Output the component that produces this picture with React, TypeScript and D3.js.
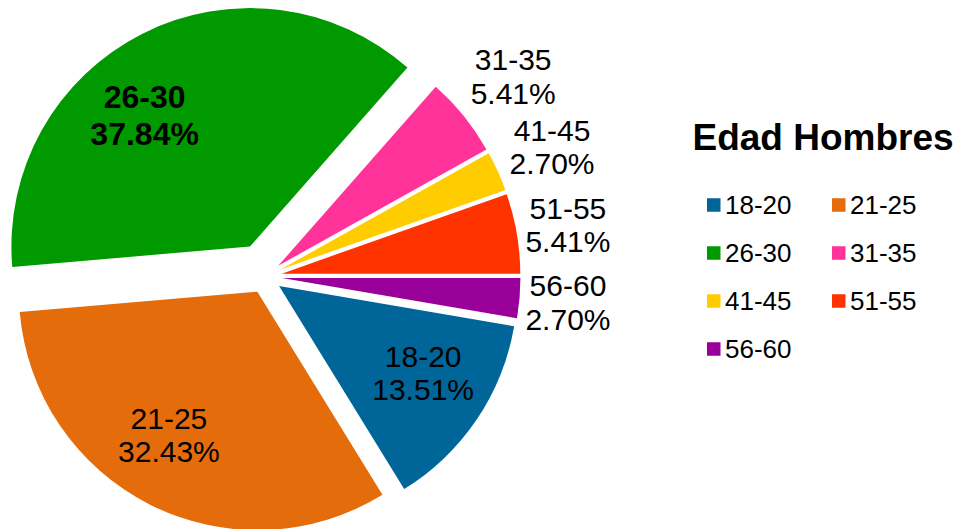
import React from "react";
import * as d3 from "d3";

// ---- data ----
const categories = ["18-20", "21-25", "26-30", "31-35", "41-45", "51-55", "56-60"];
const percents = [13.51, 32.43, 37.84, 5.41, 2.70, 5.41, 2.70];
const colors = ["#006699", "#E46C0A", "#009900", "#FF3399", "#FFCC00", "#FF3300", "#990099"];
const legendTitle = "Edad Hombres";

// ---- layout ----
const W = 959;
const H = 529;
const CX = 265;
const CY = 276.5;
const R = 238.5;
const START_DEG = 99.73;
const EXPLODE_DEFAULT = 17;
const EXPLODE_BIG = { "26-30": 33.5 } as Record<string, number>;
const INSIDE_NUDGE_DEG = { "18-20": -3, "21-25": 5, "26-30": -12 } as Record<string, number>;
const BOLD_LABELS = new Set(["26-30"]);
const FONT = "'Liberation Sans', Arial, Helvetica, sans-serif";

export default function App() {
  const toRad = (d: number) => (d * Math.PI) / 180;
  const start = toRad(START_DEG);
  const pie = d3
    .pie<number>()
    .sort(null)
    .value((d) => d)
    .startAngle(start)
    .endAngle(start + 2 * Math.PI);
  const arcs = pie(percents);
  const arcGen = d3.arc<d3.PieArcDatum<number>>().innerRadius(0).outerRadius(R);

  const slices = arcs.map((a, i) => {
    const cat = categories[i];
    const mid = (a.startAngle + a.endAngle) / 2;
    const ex = EXPLODE_BIG[cat] ?? EXPLODE_DEFAULT;
    const ox = CX + ex * Math.sin(mid);
    const oy = CY - ex * Math.cos(mid);
    const inside = cat in INSIDE_NUDGE_DEG;
    let lx: number, ly: number;
    if (inside) {
      const ang = mid + toRad(INSIDE_NUDGE_DEG[cat]);
      const dist = 0.705 * R;
      lx = ox + dist * Math.sin(ang);
      ly = oy - dist * Math.cos(ang);
    } else {
      const s = Math.sin(mid);
      const c = Math.cos(mid);
      const dist = R + 4 + Math.abs(s) * 41 + Math.abs(c) * 44;
      lx = ox + dist * s;
      ly = oy - dist * c;
    }
    const bold = BOLD_LABELS.has(cat);
    const fs = bold ? 32 : 30;
    const lineH = bold ? 37 : 33.5;
    const cap = fs * 0.716;
    const b1 = ly - (lineH - cap) / 2;
    return { a, i, cat, ox, oy, lx, b1, lineH, fs, bold };
  });

  const legendX0 = 707;
  const legendColW = 125;
  const legendY0 = 205;
  const legendRowH = 48;
  const sq = 13.5;

  return (
    <svg
      width={W}
      height={H}
      style={{ position: "absolute", left: 0, top: 0, background: "#fff" }}
      fontFamily={FONT}
    >
      <rect x={0} y={0} width={W} height={H} fill="#fff" />
      {slices.map((s) => (
        <path
          key={s.cat}
          d={arcGen(s.a) || ""}
          transform={`translate(${s.ox},${s.oy})`}
          fill={colors[s.i]}
        />
      ))}
      {slices.map((s) => (
        <text
          key={"l" + s.cat}
          textAnchor="middle"
          fontSize={s.fs}
          fontWeight={s.bold ? "bold" : "normal"}
          fill="#000"
        >
          <tspan x={s.lx} y={s.b1}>
            {s.cat}
          </tspan>
          <tspan x={s.lx} y={s.b1 + s.lineH}>
            {percents[s.i].toFixed(2) + "%"}
          </tspan>
        </text>
      ))}
      <text x={692.5} y={150} fontSize={37} fontWeight="bold" fill="#000">
        {legendTitle}
      </text>
      {categories.map((c, i) => {
        const col = i % 2;
        const row = Math.floor(i / 2);
        const x = legendX0 + col * legendColW;
        const yc = legendY0 + row * legendRowH;
        return (
          <g key={"lg" + c}>
            <rect x={x} y={yc - sq / 2} width={sq} height={sq} fill={colors[i]} />
            <text x={x + 18} y={yc + 8.5} fontSize={26} fill="#000">
              {c}
            </text>
          </g>
        );
      })}
    </svg>
  );
}
